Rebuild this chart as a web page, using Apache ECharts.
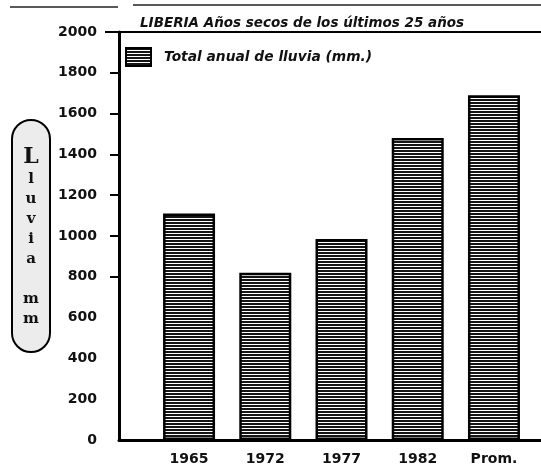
<!DOCTYPE html>
<html>
<head>
<meta charset="utf-8">
<script src="https://cdn.jsdelivr.net/npm/echarts@6/dist/echarts.min.js"></script>
<style>html,body{margin:0;padding:0;background:#fff}#c{width:541px;height:468px}</style>
</head>
<body>
<div id="c"></div>
<script>
const categories = ['1965', '1972', '1977', '1982', 'Prom.'];
const rainfall = [1110, 820, 985, 1480, 1690];
const yTickValues = [800, 1000, 1200, 1400, 1600, 1800, 2000];
const titleText = 'LIBERIA Años secos de los últimos 25 años';
const seriesName = 'Total anual de lluvia (mm.)';
const axisNameLetters = ['L', 'l', 'u', 'v', 'i', 'a', '', 'm', 'm'];

// striped fill pattern
function stripes() {
  const c = document.createElement('canvas');
  c.width = 4; c.height = 3;
  const g = c.getContext('2d');
  g.fillStyle = '#fff'; g.fillRect(0, 0, 4, 3);
  g.fillStyle = '#141414'; g.fillRect(0, 0, 4, 2);
  return c;
}

const chart = echarts.init(document.getElementById('c'), null, {renderer: 'canvas'});
const sans = 'DejaVu Sans';
const nameText = axisNameLetters.map((ch, i) => i === 0 ? '{big|' + ch + '}' : (ch ? '{s|' + ch + '}' : '{s| }')).join('\n');

chart.setOption({
  animation: false,
  backgroundColor: '#fff',
  title: {
    text: titleText,
    left: 135, top: 11,
    textStyle: {fontFamily: sans, fontStyle: 'italic', fontWeight: 'bold', fontSize: 13.5, color: '#111'}
  },
  legend: {
    left: 120, top: 42,
    itemWidth: 25, itemHeight: 18,
    itemGap: 10,
    icon: 'rect',
    itemStyle: {borderColor: '#000', borderWidth: 2},
    textStyle: {fontFamily: sans, fontStyle: 'italic', fontWeight: 'bold', fontSize: 13.8, color: '#111', padding: [0, 0, 0, 8]},
    data: [seriesName]
  },
  grid: {left: 119, right: 0, top: 32, bottom: 28},
  xAxis: [{
    type: 'value',
    min: 0.081, max: 5.617,
    splitLine: {show: false},
    axisLine: {show: true, onZero: false, lineStyle: {color: '#000', width: 3}},
    axisTick: {show: false},
    axisLabel: {
      customValues: [1, 2, 3, 4, 5],
      formatter: v => categories[Math.round(v) - 1] || '',
      fontFamily: sans, fontWeight: 'bold', fontSize: 14, color: '#111', margin: 12
    }
  }, {
    type: 'value', position: 'top',
    min: 0.081, max: 5.617,
    splitLine: {show: false},
    axisLine: {show: true, onZero: false, lineStyle: {color: '#000', width: 2}},
    axisTick: {show: false}, axisLabel: {show: false}
  }],
  yAxis: {
    type: 'value',
    min: 0, max: 2000, interval: 200,
    splitLine: {show: false},
    axisLine: {show: true, onZero: false, lineStyle: {color: '#000', width: 3}},
    axisTick: {show: true, customValues: yTickValues, length: 9, lineStyle: {color: '#000', width: 2}},
    axisLabel: {formatter: v => String(v), fontFamily: sans, fontWeight: 'bold', fontSize: 14, color: '#111', margin: 22},
    name: nameText,
    nameLocation: 'middle',
    nameRotate: 0,
    nameGap: 70,
    nameTextStyle: {
      backgroundColor: '#ececec',
      borderColor: '#000', borderWidth: 2, borderRadius: 18,
      padding: [24, 11, 22, 11],
      rich: {
        big: {fontFamily: 'DejaVu Serif', fontWeight: 'bold', fontSize: 22, lineHeight: 24, color: '#111', width: 14, align: 'center'},
        s: {fontFamily: 'DejaVu Serif', fontWeight: 'bold', fontSize: 15, lineHeight: 20, color: '#111', width: 14, align: 'center'}
      }
    }
  },
  graphic: [
    {type: 'line', shape: {x1: 10, y1: 7, x2: 118, y2: 7}, style: {stroke: '#222', lineWidth: 1.5}},
    {type: 'line', shape: {x1: 133, y1: 5, x2: 541, y2: 5}, style: {stroke: '#222', lineWidth: 1.5}},
    {type: 'line', shape: {x1: 105, y1: 32, x2: 119, y2: 32}, style: {stroke: '#000', lineWidth: 2}}
  ],
  series: [{
    name: seriesName,
    type: 'bar',
    barWidth: 52,
    data: rainfall.map((v, i) => [i + 1, v]),
    itemStyle: {
      color: {image: stripes(), repeat: 'repeat'},
      borderColor: '#000', borderWidth: 2.5
    }
  }]
});
</script>
</body>
</html>
